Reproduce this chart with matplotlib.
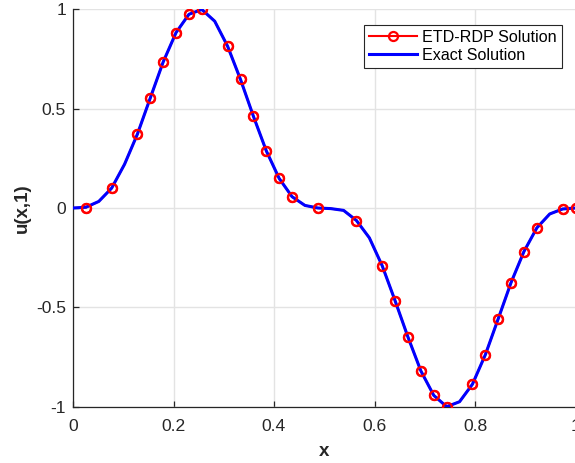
import numpy as np
import matplotlib
matplotlib.use("Agg")
import matplotlib.pyplot as plt

plt.rcParams['font.family'] = ['Liberation Sans', 'DejaVu Sans']

# Exact solution sampled on a 40-point grid
x_grid = np.linspace(0, 1, 40)
u_exact = [0.0, 0.004, 0.033, 0.10, 0.22, 0.372, 0.554, 0.735, 0.883, 0.975,
           0.999, 0.94, 0.814, 0.647, 0.462, 0.288, 0.149, 0.057, 0.013, 0.0,
           -0.003, -0.012, -0.063, -0.15, -0.291, -0.467, -0.65, -0.82, -0.943, -1.0,
           -0.975, -0.887, -0.739, -0.558, -0.375, -0.219, -0.1, -0.03, -0.005, 0.0]

# ETD-RDP solution on the same grid (markers shown only at some grid points)
u_etd = [0.0, 0.002, 0.033, 0.10, 0.22, 0.372, 0.554, 0.735, 0.883, 0.975,
         0.999, 0.94, 0.814, 0.647, 0.462, 0.288, 0.149, 0.057, 0.013, 0.0,
         -0.003, -0.012, -0.063, -0.15, -0.291, -0.467, -0.65, -0.82, -0.943, -1.0,
         -0.975, -0.887, -0.739, -0.558, -0.375, -0.219, -0.1, -0.03, -0.005, 0.0]
marker_idx = [1, 3, 5, 6, 7, 8, 9, 10, 12, 13, 14, 15, 16, 17, 19, 22, 24, 25, 26,
              27, 28, 29, 31, 32, 33, 34, 35, 36, 38, 39]

xticks = [0, 0.2, 0.4, 0.6, 0.8, 1]
xticklabels = ['0', '0.2', '0.4', '0.6', '0.8', '1']
yticks = [-1, -0.5, 0, 0.5, 1]
yticklabels = ['-1', '-0.5', '0', '0.5', '1']

W, H = 575, 463
fig = plt.figure(figsize=(W / 100, H / 100), dpi=100)
ax = fig.add_axes([73 / W, 1 - 406.7 / H, 502.5 / W, 397.4 / H])

dark = '#262626'
ax.plot(x_grid, u_etd, color='red', lw=1.5, marker='o', ms=6.5, mfc='none',
        mec='red', mew=1.6, markevery=marker_idx, label='ETD-RDP Solution', zorder=3)
ax.plot(x_grid, u_exact, color='blue', lw=2.2, label='Exact Solution', zorder=4)
# markers drawn again above the blue line
ax.plot(x_grid, u_etd, ls='none', marker='o', ms=6.5, mfc='none', mec='red',
        mew=1.6, markevery=marker_idx, zorder=5)

ax.set_xlim(0, 1)
ax.set_ylim(-1, 1)
ax.set_xticks(xticks)
ax.set_xticklabels(xticklabels)
ax.set_yticks(yticks)
ax.set_yticklabels(yticklabels)
ax.grid(True, color='#e3e3e3', lw=1.0)
ax.set_axisbelow(True)
for s in ['top', 'right']:
    ax.spines[s].set_visible(False)
for s in ['left', 'bottom']:
    ax.spines[s].set_color(dark)
    ax.spines[s].set_linewidth(0.9)
ax.tick_params(direction='in', length=4, width=0.9, colors=dark,
               labelsize=12.6)
ax.tick_params(axis='x', pad=9)
ax.tick_params(axis='y', pad=5)
ax.set_xlabel('x', fontsize=13.5, fontweight='bold', color=dark, labelpad=6)
ax.set_ylabel('u(x,1)', fontsize=13.5, fontweight='bold', color=dark, labelpad=4)

leg = ax.legend(loc='upper right', bbox_to_anchor=(561.7 / W, 1 - 25 / H),
                bbox_transform=fig.transFigure, borderaxespad=0,
                fontsize=11.6, fancybox=False, framealpha=1, edgecolor=dark,
                handlelength=3.0, handletextpad=0.3, borderpad=0.3,
                labelspacing=0.2)
leg.get_frame().set_linewidth(0.8)

fig.savefig('out.png', dpi=100)
